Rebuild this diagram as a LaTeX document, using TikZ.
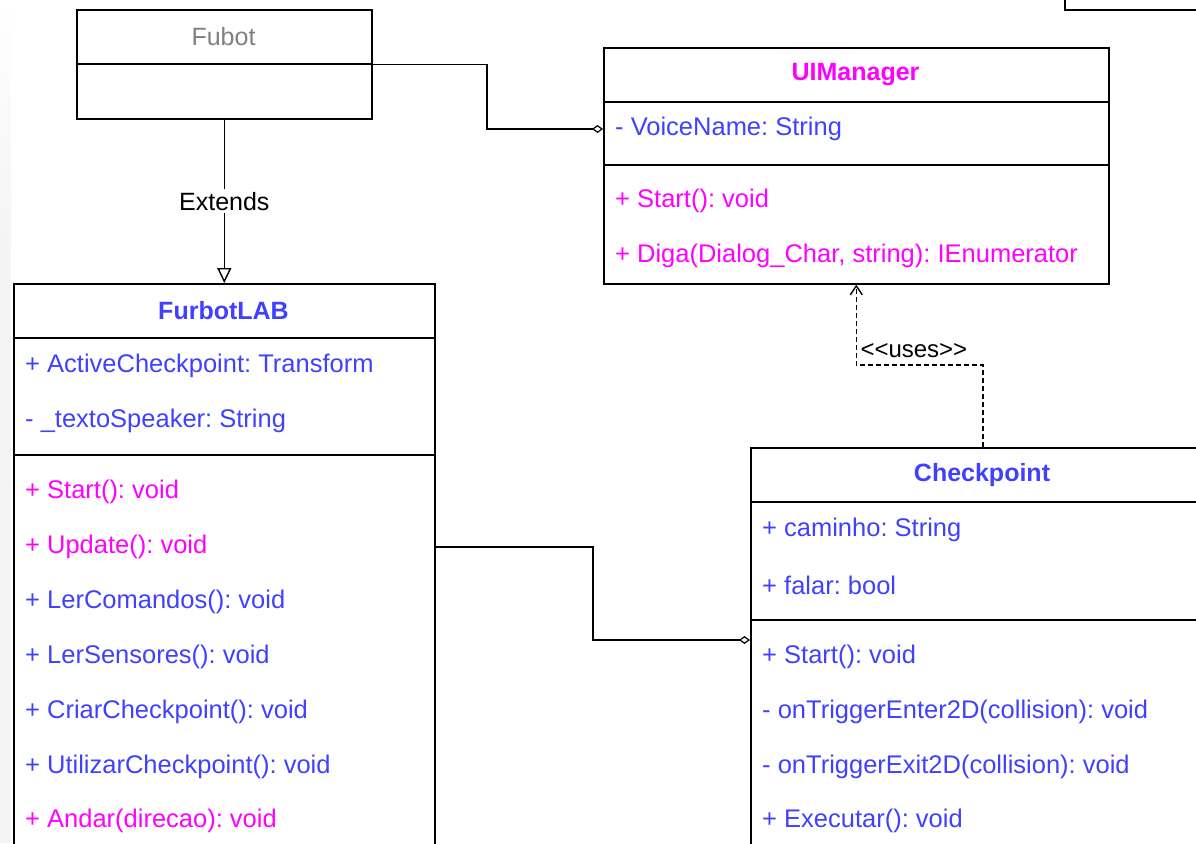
\documentclass[tikz,border=0pt]{standalone}
\usepackage{fontspec}
\setmainfont{Liberation Sans}
\usetikzlibrary{arrows.meta}
\frenchspacing
\definecolor{ublue}{RGB}{64,64,255}
\definecolor{umag}{RGB}{255,0,255}
\definecolor{ugray}{RGB}{128,128,128}
\tikzset{
  classbox/.style={draw=black, line width=1.6pt, rectangle, inner sep=0pt, anchor=north west},
  divline/.style={draw=black, line width=1.6pt},
  member/.style={anchor=west, inner sep=0pt, font=\fontsize{25.5}{30}\selectfont},
  title/.style={inner sep=0pt, font=\fontsize{25}{30}\selectfont\bfseries},
  conn/.style={draw=black, line width=1.4pt},
  aggr/.style={conn, -{Diamond[open, length=11pt, width=8pt, line width=1.2pt]}},
  gener/.style={conn, -{Triangle[open, length=15pt, width=14pt, line width=1.4pt]}},
  usesarrow/.style={conn, dash pattern=on 5pt off 3pt, -{Straight Barb[length=9pt, width=12pt, line width=1.4pt]}},
}
\begin{document}
\begin{tikzpicture}[x=1pt, y=-1pt]
\useasboundingbox (0,0) rectangle (1196,843);
\fill[white] (0,0) rectangle (1196,843);
\shade[top color=white, bottom color=gray!9] (0,0) rectangle (11,250);
\fill[gray!9] (0,250) rectangle (11,843);

% partial box top right
\node[classbox, minimum width=200pt, minimum height=60pt] (partial) at (1064,-51) {};

% Fubot
\node[classbox, minimum width=295pt, minimum height=109pt] (fubot) at (76,9) {};
\draw[divline] (76,64) -- (371,64);
\node[inner sep=0pt, text=ugray, font=\fontsize{25}{30}\selectfont] (fubottitle) at (223.5,37) {Fubot};

% UIManager
\node[classbox, minimum width=505pt, minimum height=236pt] (uim) at (603,47) {};
\draw[divline] (603,102) -- (1108,102);
\draw[divline] (603,165) -- (1108,165);
\node[title, text=umag] (uimtitle) at (855.5,75) {UIManager};
\node[member, text=ublue] (vn) at (615,129) {- VoiceName: String};
\node[member, text=umag] (uimstart) at (615,201) {+ Start(): void};
\node[member, text=umag] (diga) at (615,256) {+ Diga(Dialog\_Char, string): IEnumerator};

% FurbotLAB
\node[classbox, minimum width=421pt, minimum height=640pt] (flab) at (13,283) {};
\draw[divline] (13,338) -- (434,338);
\draw[divline] (13,455) -- (434,455);
\node[title, text=ublue] (flabtitle) at (223.5,311) {FurbotLAB};
\node[member, text=ublue] (a1) at (25,366) {+ ActiveCheckpoint: Transform};
\node[member, text=ublue] (a2) at (25,421) {- \_textoSpeaker: String};
\node[member, text=umag] (m1) at (25,492) {+ Start(): void};
\node[member, text=umag] (m2) at (25,547) {+ Update(): void};
\node[member, text=ublue] (m3) at (25,602) {+ LerComandos(): void};
\node[member, text=ublue] (m4) at (25,657) {+ LerSensores(): void};
\node[member, text=ublue] (m5) at (25,712) {+ CriarCheckpoint(): void};
\node[member, text=ublue] (m6) at (25,767) {+ UtilizarCheckpoint(): void};
\node[member, text=umag] (m7) at (25,821) {+ Andar(direcao): void};

% Checkpoint
\node[classbox, minimum width=464pt, minimum height=480pt] (cp) at (750,447) {};
\draw[divline] (750,502) -- (1214,502);
\draw[divline] (750,620) -- (1214,620);
\node[title, text=ublue] (cptitle) at (982,475) {Checkpoint};
\node[member, text=ublue] (c1) at (762,530) {+ caminho: String};
\node[member, text=ublue] (c2) at (762,585) {+ falar: bool};
\node[member, text=ublue] (c3) at (762,657) {+ Start(): void};
\node[member, text=ublue] (c4) at (762,712) {- onTriggerEnter2D(collision): void};
\node[member, text=ublue] (c5) at (762,767) {- onTriggerExit2D(collision): void};
\node[member, text=ublue] (c6) at (762,821) {+ Executar(): void};

% connectors
\coordinate (bendA) at (487,0);
\draw[aggr] (fubot.east) -- (fubot.east -| bendA) |- (uim.west |- vn.west);

\draw[gener] (fubot.south) -- node[fill=white, inner sep=3pt, font=\fontsize{25}{30}\selectfont] (extlabel) {Extends} (flab.north);

\coordinate (bendB) at (593,0);
\coordinate (cpjoin) at (750,640);
\draw[aggr] (flab.east |- m2.west) -- (m2.west -| bendB) |- (cpjoin);

\coordinate (usesy) at (0,365);
\draw[usesarrow] (cp.north) |- (uim.south |- usesy) coordinate (usescorner) -- (uim.south);
\node[anchor=base west, inner sep=0pt, font=\fontsize{24}{28}\selectfont] (useslabel) at ([xshift=4pt, yshift=8pt]usescorner) {<{}<uses>{}>};
\end{tikzpicture}
\end{document}
